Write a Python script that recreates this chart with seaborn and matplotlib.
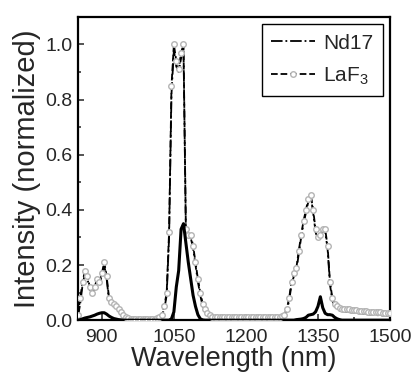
import matplotlib
matplotlib.use('Agg')
import matplotlib.pyplot as plt
from matplotlib.ticker import MultipleLocator
import numpy as np
import seaborn as sns

# wavelength grid (nm), one value every 5 nm
wavelength = np.arange(850, 1501, 5)

# LaF3 (dashed + grey circles)
laf3 = [0.02, 0.08, 0.14, 0.18, 0.16, 0.12, 0.10, 0.12, 0.15, 0.14,      # 850
        0.17, 0.21, 0.16, 0.08, 0.065, 0.06, 0.05, 0.04, 0.03, 0.02,     # 900
        0.012, 0.008, 0.006, 0.005, 0.005, 0.005, 0.005, 0.005, 0.005, 0.005,  # 950
        0.005, 0.005, 0.006, 0.008, 0.012, 0.02, 0.05, 0.10, 0.32, 0.85,  # 1000
        1.0, 0.94, 0.91, 0.97, 1.0, 0.33, 0.31, 0.31, 0.27, 0.21,        # 1050
        0.15, 0.10, 0.06, 0.04, 0.025, 0.018, 0.013, 0.012, 0.012, 0.012,  # 1100
        0.012, 0.012, 0.012, 0.012, 0.012, 0.012, 0.012, 0.012, 0.012, 0.012,  # 1150
        0.012, 0.012, 0.012, 0.012, 0.012, 0.012, 0.012, 0.012, 0.012, 0.012,  # 1200
        0.012, 0.012, 0.012, 0.012, 0.012, 0.014, 0.02, 0.04, 0.08, 0.14,  # 1250
        0.17, 0.19, 0.25, 0.31, 0.36, 0.40, 0.44, 0.455, 0.40, 0.33,      # 1300
        0.30, 0.31, 0.33, 0.33, 0.27, 0.14, 0.08, 0.06, 0.05, 0.045,      # 1350
        0.042, 0.041, 0.040, 0.039, 0.038, 0.037, 0.036, 0.035, 0.034, 0.033,  # 1400
        0.032, 0.031, 0.030, 0.030, 0.029, 0.028, 0.028, 0.027, 0.027, 0.026,  # 1450
        0.025]                                                             # 1500

# Nd17 (dash-dot)
nd17 = [0.01, 0.06, 0.13, 0.17, 0.15, 0.11, 0.10, 0.11, 0.14, 0.13,
        0.16, 0.20, 0.15, 0.07, 0.06, 0.055, 0.045, 0.035, 0.025, 0.018,
        0.01, 0.007, 0.005, 0.004, 0.004, 0.004, 0.004, 0.004, 0.004, 0.004,
        0.004, 0.004, 0.005, 0.007, 0.01, 0.018, 0.04, 0.09, 0.30, 0.82,
        0.98, 0.92, 0.90, 0.95, 0.99, 0.32, 0.30, 0.30, 0.26, 0.20,
        0.14, 0.09, 0.05, 0.035, 0.02, 0.015, 0.011, 0.009, 0.008, 0.008,
        0.008, 0.008, 0.008, 0.008, 0.008, 0.008, 0.008, 0.008, 0.008, 0.008,
        0.008, 0.008, 0.008, 0.008, 0.008, 0.008, 0.008, 0.008, 0.008, 0.008,
        0.008, 0.008, 0.008, 0.008, 0.008, 0.01, 0.018, 0.035, 0.07, 0.13,
        0.16, 0.18, 0.24, 0.30, 0.35, 0.39, 0.43, 0.45, 0.39, 0.32,
        0.29, 0.30, 0.32, 0.32, 0.26, 0.13, 0.07, 0.05, 0.04, 0.035,
        0.032, 0.031, 0.030, 0.029, 0.028, 0.027, 0.026, 0.025, 0.024, 0.023,
        0.022, 0.021, 0.020, 0.020, 0.019, 0.018, 0.018, 0.017, 0.017, 0.016,
        0.015]

# third spectrum, thick solid line (no legend entry)
solid = [0.0, 0.002, 0.005, 0.008, 0.01, 0.012, 0.015, 0.018, 0.022, 0.025,
         0.027, 0.027, 0.022, 0.015, 0.01, 0.006, 0.004, 0.002, 0.001, 0.0,
         0, 0, 0, 0, 0, 0, 0, 0, 0, 0,
         0, 0, 0, 0, 0, 0, 0, 0, 0, 0.005,
         0.03, 0.12, 0.18, 0.33, 0.35, 0.28, 0.21, 0.15, 0.09, 0.05,
         0.02, 0.005, 0.001, 0, 0, 0, 0, 0, 0, 0,
         0, 0, 0, 0, 0, 0, 0, 0, 0, 0,
         0, 0, 0, 0, 0, 0, 0, 0, 0, 0,
         0, 0, 0, 0, 0, 0, 0, 0, 0, 0,
         0, 0.002, 0.003, 0.004, 0.006, 0.01, 0.018, 0.02, 0.022, 0.03,
         0.05, 0.085, 0.045, 0.025, 0.02, 0.02, 0.018, 0.01, 0.005, 0.002,
         0, 0, 0, 0, 0, 0, 0, 0, 0, 0,
         0, 0, 0, 0, 0, 0, 0, 0, 0, 0,
         0]

sns.set_style('ticks')
plt.rcParams['font.family'] = ['Liberation Sans', 'DejaVu Sans']
plt.rcParams['mathtext.fontset'] = 'custom'
plt.rcParams['mathtext.rm'] = 'Liberation Sans'

fig = plt.figure(figsize=(4.14, 3.83), dpi=100)
ax = fig.add_axes([0.188, 0.164, 0.754, 0.792])

sns.lineplot(x=wavelength, y=nd17, ax=ax, color='black', linestyle='-.',
             linewidth=1.3, label='Nd17', zorder=2)
sns.lineplot(x=wavelength, y=laf3, ax=ax, color='black', linestyle='--',
             linewidth=1.3, marker='o', markersize=4, markerfacecolor='white',
             markeredgecolor='#b4b4b4', markeredgewidth=1.0,
             label='LaF$_3$', zorder=3)
sns.lineplot(x=wavelength, y=solid, ax=ax, color='black', linestyle='-',
             linewidth=2.2, zorder=4)

ax.set_xlim(850, 1500)
ax.set_ylim(0, 1.1)
ax.xaxis.set_major_locator(MultipleLocator(150))
ax.xaxis.set_minor_locator(MultipleLocator(75))
ax.yaxis.set_major_locator(MultipleLocator(0.2))
ax.yaxis.set_minor_locator(MultipleLocator(0.1))
ax.tick_params(which='both', direction='in', width=1.1, labelsize=14,
               top=False, right=False)
ax.tick_params(which='major', length=4)
ax.tick_params(axis='x', which='major', pad=6)
ax.tick_params(axis='y', which='major', pad=4)
ax.tick_params(which='minor', length=2.5)
for s in ax.spines.values():
    s.set_linewidth(1.6)
    s.set_color('black')

ax.set_xlabel('Wavelength (nm)', fontsize=19.5, labelpad=0)
ax.set_ylabel('Intensity (normalized)', fontsize=21, labelpad=3)

leg = ax.legend(loc='upper right', fontsize=15, frameon=True, fancybox=False,
                edgecolor='black', framealpha=1, handlelength=2.1,
                borderpad=0.45, labelspacing=0.6, handletextpad=0.4,
                borderaxespad=0.35)
leg.get_frame().set_linewidth(1.0)

fig.savefig('out.png', dpi=100)
